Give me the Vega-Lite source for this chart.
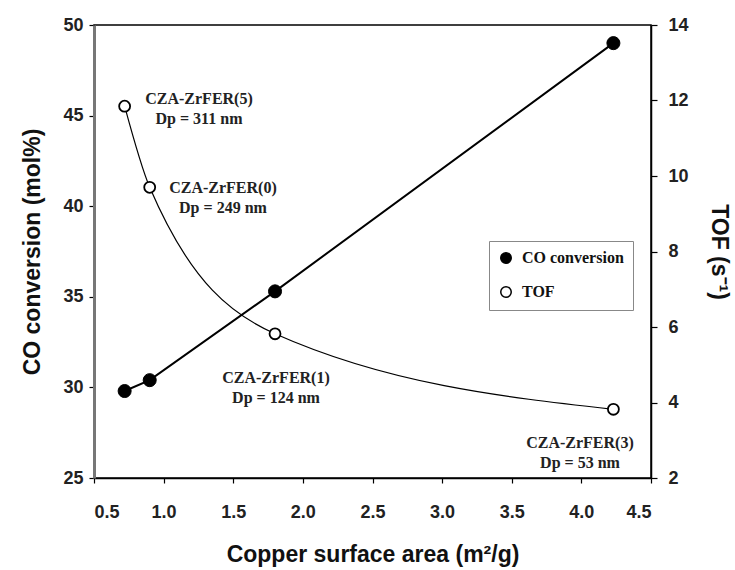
{
  "$schema": "https://vega.github.io/schema/vega-lite/v6.json",
  "width": 557,
  "height": 453,
  "autosize": "none",
  "padding": {"left": 94, "top": 25, "right": 84, "bottom": 92},
  "background": "white",
  "config": {
    "view": {"stroke": "black", "strokeWidth": 1.5},
    "axis": {
      "labelFont": "Liberation Sans",
      "labelFontSize": 18,
      "labelFontWeight": "bold",
      "labelColor": "#222",
      "titleFont": "Liberation Sans",
      "titleFontSize": 23,
      "titleFontWeight": "bold",
      "titleColor": "#111",
      "grid": false,
      "tickColor": "black",
      "domainColor": "black",
      "tickSize": 5,
      "domainWidth": 1.5,
      "tickWidth": 1.2
    },
    "legend": {
      "orient": "none",
      "legendX": 395,
      "legendY": 216,
      "strokeColor": "#888",
      "fillColor": "white",
      "padding": 9,
      "rowPadding": 16,
      "symbolSize": 110,
      "symbolType": "circle",
      "symbolStrokeColor": "black",
      "symbolStrokeWidth": 1.5,
      "labelFont": "Liberation Serif",
      "labelFontSize": 16,
      "labelFontWeight": "bold",
      "labelColor": "#111",
      "labelOffset": 8
    }
  },
  "data": {
    "values": [
      {"area": 0.72, "co": 29.8, "tof": 11.85},
      {"area": 0.9, "co": 30.4, "tof": 9.7},
      {"area": 1.8, "co": 35.3, "tof": 5.82},
      {"area": 4.23, "co": 49.0, "tof": 3.82}
    ]
  },
  "encoding": {
    "x": {
      "field": "area",
      "type": "quantitative",
      "scale": {"domain": [0.5, 4.5], "nice": false, "zero": false},
      "axis": {
        "title": "Copper surface area (m²/g)",
        "values": [0.5, 1.0, 1.5, 2.0, 2.5, 3.0, 3.5, 4.0, 4.5],
        "format": ".1f",
        "labelPadding": 20,
        "titlePadding": 22
      }
    }
  },
  "layer": [
    {
      "encoding": {
        "y": {
          "field": "co",
          "type": "quantitative",
          "scale": {"domain": [25, 50], "nice": false, "zero": false},
          "axis": {
            "orient": "left",
            "title": "CO conversion (mol%)",
            "values": [25, 30, 35, 40, 45, 50],
            "domainColor": "#777",
            "domainWidth": 3,
            "labelPadding": 6,
            "titlePadding": 18
          }
        }
      },
      "layer": [
        {"mark": {"type": "line", "color": "black", "strokeWidth": 2}},
        {
          "mark": {"type": "circle", "size": 170, "opacity": 1, "stroke": "black", "strokeWidth": 1},
          "encoding": {
            "fill": {
              "datum": "CO conversion",
              "type": "nominal",
              "scale": {"domain": ["CO conversion", "TOF"], "range": ["black", "white"]},
              "legend": {"title": null}
            }
          }
        }
      ]
    },
    {
      "encoding": {
        "y": {
          "field": "tof",
          "type": "quantitative",
          "scale": {"domain": [2, 14], "nice": false, "zero": false},
          "axis": {
            "orient": "right",
            "title": "TOF (s⁻¹)",
            "values": [2, 4, 6, 8, 10, 12, 14],
            "tickSize": 6,
            "labelPadding": 11,
            "titlePadding": 18
          }
        }
      },
      "layer": [
        {"mark": {"type": "line", "color": "black", "strokeWidth": 1.2, "interpolate": "monotone"}},
        {
          "mark": {"type": "circle", "size": 120, "opacity": 1, "stroke": "black", "strokeWidth": 1.8},
          "encoding": {
            "fill": {"datum": "TOF", "type": "nominal"}
          }
        },
        {
          "data": {
            "values": [
              {"area": 1.254, "tof": 12.05, "label": "CZA-ZrFER(5)\nDp = 311 nm"},
              {"area": 1.426, "tof": 9.69, "label": "CZA-ZrFER(0)\nDp = 249 nm"},
              {"area": 1.807, "tof": 4.65, "label": "CZA-ZrFER(1)\nDp = 124 nm"},
              {"area": 3.99, "tof": 2.93, "label": "CZA-ZrFER(3)\nDp = 53 nm"}
            ]
          },
          "mark": {
            "type": "text",
            "font": "Liberation Serif",
            "fontSize": 16,
            "fontWeight": "bold",
            "color": "#222",
            "align": "center",
            "baseline": "middle",
            "lineBreak": "\n",
            "lineHeight": 20
          },
          "encoding": {
            "text": {"field": "label", "type": "nominal"}
          }
        }
      ]
    }
  ],
  "resolve": {"scale": {"y": "independent"}}
}
